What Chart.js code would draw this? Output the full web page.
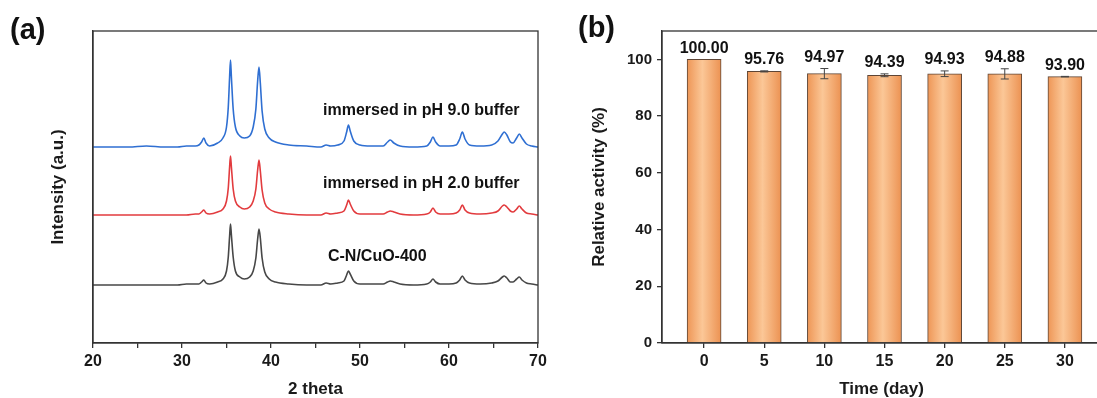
<!DOCTYPE html>
<html>
<head>
<meta charset="utf-8">
<title>XRD e estabilidade</title>
<script src="https://cdn.jsdelivr.net/npm/chart.js@4.4.1/dist/chart.umd.min.js"></script>
<style>
    html, body { margin: 0; padding: 0; background: #fff; overflow: hidden; }
    #wrap { position: relative; width: 1097px; height: 398px; overflow: hidden; }
    #chartA { position: absolute; left: 0; top: 0; }
    #chartB { position: absolute; left: 560px; top: 0; }
</style>
</head>
<body>
<div id="wrap">
    <canvas id="chartA" width="560" height="398"></canvas>
    <canvas id="chartB" width="560" height="398"></canvas>
</div>
<script>
// Configuração global
Chart.defaults.font.family = "'Liberation Sans', Arial, Helvetica, sans-serif";
Chart.defaults.font.weight = 'bold';
Chart.defaults.color = '#1a1a1a';

// ---- (a) difratogramas (intensidade em u.a., já com deslocamento vertical) ----
const theta = [20, 22, 24, 26, 28, 29.5, 30.5, 31.5, 31.9, 32.2, 32.45, 32.7, 33.1, 34.0, 34.6, 35.0,
    35.2, 35.35, 35.45, 35.55, 35.75, 36.0, 36.5, 37.0, 37.6, 38.0, 38.3, 38.5, 38.65, 38.8, 39.0,
    39.3, 39.8, 40.5, 42, 44, 45.6, 46.2, 46.7, 47.5, 48.2, 48.5, 48.7, 48.9, 49.3, 50.0, 51.2, 52.6,
    53.1, 53.4, 53.8, 54.5, 56, 57.5, 57.9, 58.2, 58.5, 59.0, 60, 60.8, 61.2, 61.5, 61.8, 62.3, 63.5,
    64.8, 65.5, 66.0, 66.2, 66.5, 66.9, 67.2, 67.6, 67.9, 68.2, 68.7, 69.3, 70];

const xrdPH9 = [196, 196, 196, 197, 196, 196, 197, 197, 198, 201, 205, 200, 197, 200, 205, 216,
    236, 266, 283, 266, 234, 216, 207, 205, 207, 216, 234, 262, 276, 260, 232,
    214, 205, 201, 198, 197, 196, 198, 197, 198, 202, 211, 218, 212, 202, 198, 197, 197,
    201, 203, 200, 197, 196, 197, 201, 206, 201, 197, 197, 198, 204, 211, 204, 198, 197,
    198, 202, 209, 211, 208, 201, 200, 205, 209, 205, 199, 197, 196];

const xrdPH2 = [128, 128, 128, 128, 128, 128, 128, 129, 129, 131, 133, 130, 129, 131, 134, 142,
    155, 176, 187, 176, 154, 142, 136, 134, 136, 142, 154, 173, 183, 172, 153,
    140, 134, 131, 129, 128, 128, 130, 129, 130, 132, 138, 143, 139, 132, 129, 129, 129,
    131, 132, 131, 129, 128, 129, 131, 135, 131, 129, 129, 130, 133, 138, 133, 130, 129,
    130, 132, 137, 138, 136, 132, 131, 134, 137, 134, 130, 129, 128];

const xrdCN = [58, 58, 58, 58, 58, 58, 59, 59, 59, 61, 63, 60, 59, 61, 64, 72,
    86, 107, 119, 108, 86, 72, 66, 64, 66, 72, 85, 104, 114, 105, 85,
    71, 64, 61, 59, 58, 58, 60, 59, 60, 62, 68, 72, 69, 62, 59, 59, 59,
    61, 62, 61, 59, 58, 59, 61, 64, 61, 59, 59, 60, 63, 67, 63, 60, 59,
    60, 62, 66, 67, 65, 61, 61, 64, 66, 63, 60, 59, 58];

const xrdNomes = ['immersed in pH 9.0 buffer', 'immersed in pH 2.0 buffer', 'C-N/CuO-400'];
const xrdRotuloX = [45.85, 45.85, 46.4];
const xrdRotuloY = [228, 155, 82];
const thetaTicks = [20, 25, 30, 35, 40, 45, 50, 55, 60, 65, 70];

// ---- (b) atividade relativa ----
const dias = [0, 5, 10, 15, 20, 25, 30];
const atividade = [100.00, 95.76, 94.97, 94.39, 94.93, 94.88, 93.90];
const erroAtividade = [0, 0.2, 1.8, 0.5, 1.0, 1.8, 0.1];
const atividadeTicks = [0, 20, 40, 60, 80, 100];

const cores = {
    azul: '#2F6FD2',
    vermelho: '#E23B3E',
    preto: '#474747',
    eixo: '#333333',
    borda: '#5E4535'
};

// moldura em volta da área do gráfico
const moldura = {
    id: 'moldura',
    afterDraw(chart) {
        const { ctx, chartArea: a } = chart;
        ctx.save();
        ctx.strokeStyle = cores.eixo;
        ctx.lineWidth = 1.3;
        ctx.strokeRect(a.left, a.top, a.right - a.left, a.bottom - a.top);
        ctx.restore();
    }
};

// letra do painel (a)/(b)
const letra = {
    id: 'letra',
    afterDraw(chart, args, opts) {
        const ctx = chart.ctx;
        ctx.save();
        ctx.font = "bold 29px 'Liberation Sans', Arial, sans-serif";
        ctx.fillStyle = '#111';
        ctx.textBaseline = 'alphabetic';
        ctx.fillText(opts.text, opts.x, opts.y);
        ctx.restore();
    }
};

// nomes das curvas no painel (a)
const rotulosCurvas = {
    id: 'rotulosCurvas',
    afterDatasetsDraw(chart) {
        const { ctx, scales } = chart;
        ctx.save();
        ctx.font = "bold 16px 'Liberation Sans', Arial, sans-serif";
        ctx.fillStyle = '#111';
        ctx.textAlign = 'left';
        ctx.textBaseline = 'alphabetic';
        xrdNomes.forEach((nome, i) => {
            ctx.fillText(nome, scales.x.getPixelForValue(xrdRotuloX[i]), scales.y.getPixelForValue(xrdRotuloY[i]));
        });
        ctx.restore();
    }
};

// barras de erro e valores no painel (b)
const barrasErro = {
    id: 'barrasErro',
    afterDatasetsDraw(chart) {
        const { ctx, scales } = chart;
        ctx.save();
        ctx.strokeStyle = '#444';
        ctx.lineWidth = 1;
        ctx.font = "bold 16px 'Liberation Sans', Arial, sans-serif";
        ctx.fillStyle = '#111';
        ctx.textAlign = 'center';
        ctx.textBaseline = 'alphabetic';
        dias.forEach((d, i) => {
            const x = scales.x.getPixelForValue(d);
            const yTop = scales.y.getPixelForValue(atividade[i] + erroAtividade[i]);
            const yBot = scales.y.getPixelForValue(atividade[i] - erroAtividade[i]);
            if (erroAtividade[i] > 0) {
                ctx.beginPath();
                ctx.moveTo(x, yTop); ctx.lineTo(x, yBot);
                ctx.moveTo(x - 4, yTop); ctx.lineTo(x + 4, yTop);
                ctx.moveTo(x - 4, yBot); ctx.lineTo(x + 4, yBot);
                ctx.stroke();
            }
            ctx.fillText(atividade[i].toFixed(2), x, yTop - 6.5);
        });
        ctx.restore();
    }
};

function serie(ys) {
    return theta.map((t, i) => ({ x: t, y: ys[i] }));
}

// ---- gráfico (a) ----
new Chart(document.getElementById('chartA'), {
    type: 'line',
    data: {
        datasets: [
            { label: xrdNomes[2], data: serie(xrdCN), borderColor: cores.preto },
            { label: xrdNomes[1], data: serie(xrdPH2), borderColor: cores.vermelho },
            { label: xrdNomes[0], data: serie(xrdPH9), borderColor: cores.azul }
        ]
    },
    options: {
        responsive: false,
        animation: false,
        devicePixelRatio: 1,
        layout: { padding: { left: 0, top: 31, right: 22, bottom: 0 } },
        elements: {
            point: { radius: 0 },
            line: { borderWidth: 1.6, cubicInterpolationMode: 'monotone' }
        },
        plugins: {
            legend: { display: false },
            tooltip: { enabled: false },
            letra: { text: '(a)', x: 10, y: 39 }
        },
        scales: {
            x: {
                type: 'linear',
                min: 20,
                max: 70,
                afterBuildTicks: s => { s.ticks = thetaTicks.map(v => ({ value: v })); },
                afterFit: s => { s.height = 55; },
                ticks: {
                    font: { size: 16, weight: 'bold' },
                    padding: 4,
                    maxRotation: 0,
                    callback: v => (v % 10 === 0 ? v : '')
                },
                grid: { drawOnChartArea: false, drawTicks: true, tickLength: 5, color: cores.eixo, lineWidth: 1.3 },
                border: { color: cores.eixo, width: 1.3 },
                title: {
                    display: true,
                    text: '2 theta',
                    font: { size: 17, weight: 'bold', lineHeight: 1 },
                    padding: { top: 0, bottom: 0 }
                }
            },
            y: {
                min: 0,
                max: 312,
                afterFit: s => { s.width = 93; },
                ticks: { display: false },
                grid: { display: false },
                border: { display: true, color: cores.eixo, width: 1.3 },
                title: {
                    display: true,
                    text: 'Intensity (a.u.)',
                    font: { size: 17, weight: 'bold', lineHeight: 1 },
                    padding: { top: 49.5, bottom: 0 }
                }
            }
        }
    },
    plugins: [moldura, letra, rotulosCurvas]
});

// ---- gráfico (b) ----
new Chart(document.getElementById('chartB'), {
    type: 'bar',
    data: {
        datasets: [{
            label: 'Relative activity',
            data: dias.map((d, i) => ({ x: d, y: atividade[i] })),
            barThickness: 34,
            borderWidth: 1,
            borderColor: cores.borda,
            backgroundColor: ctx => {
                const chart = ctx.chart;
                if (!chart.chartArea || ctx.type !== 'data') return '#F6B27C';
                const cx = chart.scales.x.getPixelForValue(dias[ctx.dataIndex]);
                const g = chart.ctx.createLinearGradient(cx - 17, 0, cx + 17, 0);
                g.addColorStop(0, '#EE9656');
                g.addColorStop(0.45, '#FBC797');
                g.addColorStop(1, '#EC9252');
                return g;
            }
        }]
    },
    options: {
        responsive: false,
        animation: false,
        devicePixelRatio: 1,
        layout: { padding: { left: 0, top: 31, right: 19, bottom: 0 } },
        plugins: {
            legend: { display: false },
            tooltip: { enabled: false },
            letra: { text: '(b)', x: 18, y: 37 }
        },
        scales: {
            x: {
                type: 'linear',
                offset: false,
                min: -3.5,
                max: 33,
                afterBuildTicks: s => { s.ticks = dias.map(v => ({ value: v })); },
                afterFit: s => { s.height = 55; },
                ticks: { font: { size: 16, weight: 'bold' }, padding: 4, maxRotation: 0 },
                grid: { offset: false, drawOnChartArea: false, drawTicks: true, tickLength: 5, color: cores.eixo, lineWidth: 1.3 },
                border: { color: cores.eixo, width: 1.3 },
                title: {
                    display: true,
                    text: 'Time (day)',
                    font: { size: 17, weight: 'bold', lineHeight: 1 },
                    padding: { top: 0, bottom: 0 }
                }
            },
            y: {
                min: 0,
                max: 110,
                afterBuildTicks: s => { s.ticks = atividadeTicks.map(v => ({ value: v })); },
                afterFit: s => { s.width = 102; },
                ticks: { font: { size: 15, weight: 'bold' }, padding: 5 },
                grid: { drawOnChartArea: false, drawTicks: true, tickLength: 5, color: cores.eixo, lineWidth: 1.3 },
                border: { color: cores.eixo, width: 1.3 },
                title: {
                    display: true,
                    text: 'Relative activity (%)',
                    font: { size: 17, weight: 'bold', lineHeight: 1 },
                    padding: { top: 30.5, bottom: 0 }
                }
            }
        }
    },
    plugins: [moldura, letra, barrasErro]
});
</script>
</body>
</html>
